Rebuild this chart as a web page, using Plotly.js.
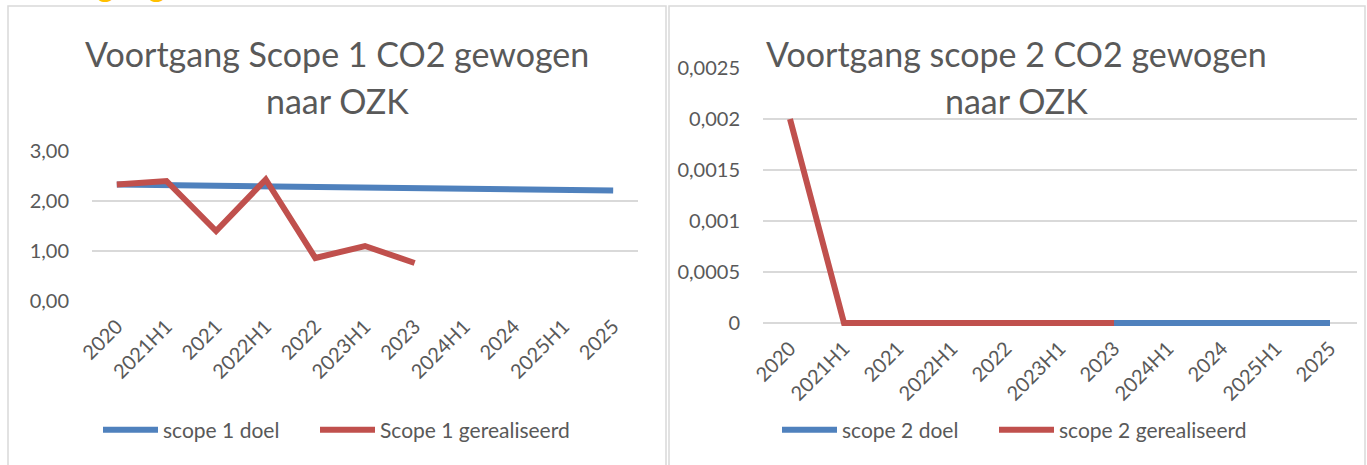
<!DOCTYPE html>
<html>
<head>
<meta charset="utf-8">
<script src="https://cdn.plot.ly/plotly-3.0.1.min.js"></script>
<style>
  html, body { margin: 0; padding: 0; background: #ffffff; }
  #chart { width: 1367px; height: 465px; }
</style>
</head>
<body>
<div id="chart"></div>
<script>
// ---- data ----
var categories = ["2020", "2021H1", "2021", "2022H1", "2022", "2023H1", "2023", "2024H1", "2024", "2025H1", "2025"];

var scope1Doel = [2.33, 2.32, 2.31, 2.30, 2.29, 2.28, 2.27, 2.26, 2.23, 2.21, 2.21];
var scope1Gerealiseerd = [2.33, 2.40, 1.40, 2.43, 0.86, 1.10, 0.76, null, null, null, null];

var scope2Doel = [null, 0, 0, 0, 0, 0, 0, 0, 0, 0, 0];
var scope2Gerealiseerd = [0.002, 0, 0, 0, 0, 0, 0, null, null, null, null];

var seriesNames = ["scope 1 doel", "Scope 1 gerealiseerd", "scope 2 doel", "scope 2 gerealiseerd"];
var titleLeft = ["Voortgang Scope 1 CO2 gewogen", "naar OZK"];
var titleRight = ["Voortgang scope 2 CO2 gewogen", "naar OZK"];
var headerText = "Voortgang";

// ---- styling ----
var W = 1367, H = 465;
var FONT = "Lato, 'Open Sans', sans-serif";
var TXT = "#595959";
var GRID = "#d9d9d9";
var BLUE = "#4f81bd";
var RED = "#c0504d";
function px(x) { return x / W; }
function py(y) { return 1 - y / H; }

var traces = [
  { x: categories, y: scope1Doel, name: seriesNames[0], type: "scatter", mode: "lines", showlegend: true,
    line: { color: BLUE, width: 6 }, xaxis: "x", yaxis: "y", legend: "legend", connectgaps: false },
  { x: categories, y: scope1Gerealiseerd, name: seriesNames[1], type: "scatter", mode: "lines", showlegend: true,
    line: { color: RED, width: 6 }, xaxis: "x", yaxis: "y", legend: "legend2", connectgaps: false },
  { x: categories, y: scope2Doel, name: seriesNames[2], type: "scatter", mode: "lines", showlegend: true,
    line: { color: BLUE, width: 6 }, xaxis: "x2", yaxis: "y2", legend: "legend3", connectgaps: false },
  { x: categories, y: scope2Gerealiseerd, name: seriesNames[3], type: "scatter", mode: "lines", showlegend: true,
    line: { color: RED, width: 6 }, xaxis: "x2", yaxis: "y2", legend: "legend4", connectgaps: false }
];

var xTick = { family: FONT, size: 20, color: TXT };
var commonX = {
  type: "category", categoryorder: "array", categoryarray: categories,
  range: [-0.5, categories.length - 0.5], autorange: false,
  tickangle: -45, tickfont: xTick, showgrid: false, zeroline: false,
  showline: false, ticks: "", ticklabelstandoff: 9, fixedrange: true
};

function legendAt(xPix) {
  return { orientation: "h", x: px(xPix), xanchor: "left", y: py(430), yanchor: "middle",
    font: { family: FONT, size: 21, color: TXT }, itemwidth: 55, visible: true,
    bgcolor: "rgba(0,0,0,0)", borderwidth: 0 };
}

// right chart: 0 sits at pixel 323, 0.0025 at pixel 68; extend 5px below so the zero line is not clipped
var y2PerPx = 0.0025 / (323 - 68);
var y2Pad = 5;

var layout = {
  width: W, height: H,
  margin: { l: 0, r: 0, t: 0, b: 0 },
  paper_bgcolor: "#ffffff", plot_bgcolor: "rgba(0,0,0,0)",
  separators: ",.",
  showlegend: true,
  font: { family: FONT, color: TXT },
  xaxis: Object.assign({}, commonX, { domain: [px(92), px(638)], anchor: "y" }),
  yaxis: { domain: [py(301), py(151)], range: [0, 3], dtick: 1, tickformat: ".2f",
    anchor: "x", gridcolor: GRID, gridwidth: 1.5, zeroline: false, showline: false, ticks: "",
    tickfont: { family: FONT, size: 20, color: TXT }, ticklabelstandoff: 22, fixedrange: true },
  xaxis2: Object.assign({}, commonX, { domain: [px(763), px(1357)], anchor: "y2", ticklabelstandoff: 4 }),
  yaxis2: { domain: [py(323 + y2Pad), py(68)], range: [-y2Pad * y2PerPx, 0.0025],
    tick0: 0, dtick: 0.0005, tickformat: "~g",
    anchor: "x2", gridcolor: GRID, gridwidth: 1.5, zeroline: false, showline: false, ticks: "",
    tickfont: { family: FONT, size: 20, color: TXT }, ticklabelstandoff: 22, fixedrange: true },
  legend: legendAt(98),
  legend2: legendAt(315),
  legend3: legendAt(777),
  legend4: legendAt(994),
  shapes: [
    { type: "rect", xref: "paper", yref: "paper", x0: px(8), x1: px(666), y0: -0.02, y1: py(6),
      line: { color: GRID, width: 1.5 }, fillcolor: "rgba(0,0,0,0)", layer: "below" },
    { type: "rect", xref: "paper", yref: "paper", x0: px(669), x1: px(1365), y0: -0.02, y1: py(6),
      line: { color: GRID, width: 1.5 }, fillcolor: "rgba(0,0,0,0)", layer: "below" }
  ],
  annotations: [
    { text: titleLeft[0], xref: "paper", yref: "paper", x: px(337), y: py(53), xanchor: "center", yanchor: "middle",
      showarrow: false, font: { family: FONT, size: 34, color: TXT } },
    { text: titleLeft[1], xref: "paper", yref: "paper", x: px(337), y: py(100), xanchor: "center", yanchor: "middle",
      showarrow: false, font: { family: FONT, size: 34, color: TXT } },
    { text: titleRight[0], xref: "paper", yref: "paper", x: px(1016), y: py(53), xanchor: "center", yanchor: "middle",
      showarrow: false, font: { family: FONT, size: 34, color: TXT } },
    { text: titleRight[1], xref: "paper", yref: "paper", x: px(1016), y: py(100), xanchor: "center", yanchor: "middle",
      showarrow: false, font: { family: FONT, size: 34, color: TXT } },
    { text: "<b>" + headerText + "</b>", xref: "paper", yref: "paper", x: px(14), y: 1, xanchor: "left", yanchor: "bottom",
      yshift: -6, showarrow: false, font: { family: FONT, size: 32, color: "#ffc000" } }
  ]
};

Plotly.newPlot("chart", traces, layout, { displayModeBar: false, staticPlot: true });
</script>
</body>
</html>
